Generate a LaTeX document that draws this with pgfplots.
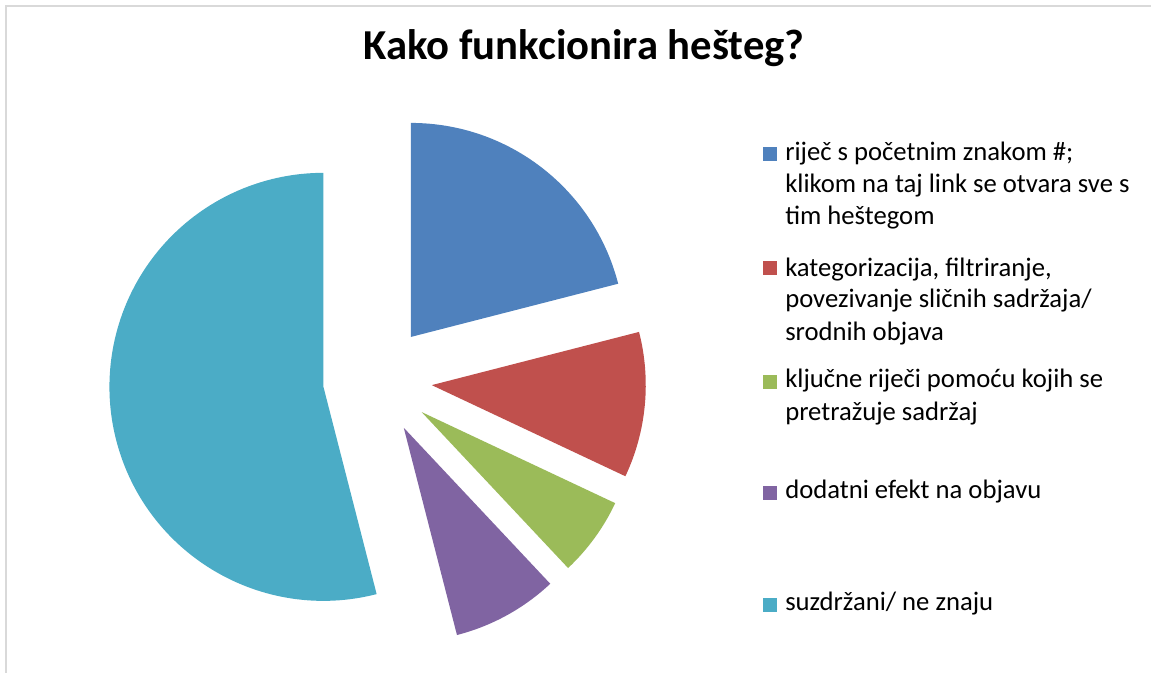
\documentclass[border=0pt]{standalone}
\usepackage{pgfplots}
\pgfplotsset{compat=1.18}
\usepackage{pgfplotstable}
\usepackage{fontspec}
\setmainfont{Carlito}

\definecolor{pie0}{HTML}{4F81BD}
\definecolor{pie1}{HTML}{C0504D}
\definecolor{pie2}{HTML}{9BBB59}
\definecolor{pie3}{HTML}{8064A2}
\definecolor{pie4}{HTML}{4BACC6}

% shares in percent, clockwise from 12 o'clock
\pgfplotstableread{
value
21
11
6
8
54
}\piedata

\newcommand\legfont{\fontsize{20}{24}\selectfont}

\begin{document}
\begin{tikzpicture}
% slice angles
\xdef\cum{90}
\foreach \i in {0,...,4}{%
  \pgfplotstablegetelem{\i}{value}\of\piedata
  \pgfmathsetmacro\sz{3.6*\pgfplotsretval}
  \pgfmathsetmacro\endang{\cum-\sz}
  \pgfmathsetmacro\midang{\cum-\sz/2}
  \expandafter\xdef\csname a\i\endcsname{\cum}
  \expandafter\xdef\csname b\i\endcsname{\endang}
  \expandafter\xdef\csname m\i\endcsname{\midang}
  \xdef\cum{\endang}
}
\begin{axis}[
  width=863.25pt, height=504pt, scale only axis,
  xmin=0, xmax=1151, ymin=0, ymax=672,
  hide axis
]
\coordinate (ll) at (axis cs:0,0);
\coordinate (ur) at (axis cs:1151,672);
\draw[black!15, line width=1.5pt] (axis cs:6,-20) rectangle (axis cs:1180,666);

\pgfplotsinvokeforeach{0,...,4}{
  \fill[pie#1] (axis cs:377.5,292) ++(\csname m#1\endcsname:40.875pt)
    -- ++(\csname a#1\endcsname:160.5pt)
    arc[start angle=\csname a#1\endcsname, end angle=\csname b#1\endcsname, radius=160.5pt]
    -- cycle;
}

\node[anchor=base, font=\fontsize{32}{36}\selectfont\bfseries] at (axis cs:584,612) {Kako funkcionira hešteg?};

% legend
\fill[pie0] (axis cs:770,517.5) ++(-5.25pt,-5.25pt) rectangle ++(10.5pt,10.5pt);
\node[anchor=base west, font=\legfont, inner sep=0pt] at (axis cs:785,511) {riječ s početnim znakom \#;};
\node[anchor=base west, font=\legfont, inner sep=0pt] at (axis cs:785,479) {klikom na taj link se otvara sve s};
\node[anchor=base west, font=\legfont, inner sep=0pt] at (axis cs:785,447) {tim heštegom};

\fill[pie1] (axis cs:770,404.5) ++(-5.25pt,-5.25pt) rectangle ++(10.5pt,10.5pt);
\node[anchor=base west, font=\legfont, inner sep=0pt] at (axis cs:785,396) {kategorizacija, filtriranje,};
\node[anchor=base west, font=\legfont, inner sep=0pt] at (axis cs:785,364.5) {povezivanje sličnih sadržaja/};
\node[anchor=base west, font=\legfont, inner sep=0pt] at (axis cs:785,332) {srodnih objava};

\fill[pie2] (axis cs:770,290) ++(-5.25pt,-5.25pt) rectangle ++(10.5pt,10.5pt);
\node[anchor=base west, font=\legfont, inner sep=0pt] at (axis cs:785,285) {ključne riječi pomoću kojih se};
\node[anchor=base west, font=\legfont, inner sep=0pt] at (axis cs:785,252) {pretražuje sadržaj};

\fill[pie3] (axis cs:770,179) ++(-5.25pt,-5.25pt) rectangle ++(10.5pt,10.5pt);
\node[anchor=base west, font=\legfont, inner sep=0pt] at (axis cs:785,173.5) {dodatni efekt na objavu};

\fill[pie4] (axis cs:770,67) ++(-5.25pt,-5.25pt) rectangle ++(10.5pt,10.5pt);
\node[anchor=base west, font=\legfont, inner sep=0pt] at (axis cs:785,61.5) {suzdržani/ ne znaju};
\end{axis}
\pgfresetboundingbox
\path (ll) rectangle (ur);
\end{tikzpicture}
\end{document}
